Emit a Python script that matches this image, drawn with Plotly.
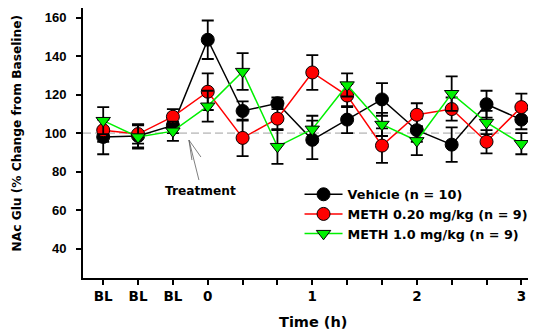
import plotly.graph_objects as go

# x positions: sample index (20-min bins); tick labels
x_idx = list(range(13))
tick_text = ["BL", "BL", "BL", "0", "", "", "1", "", "", "2", "", "", "3"]

veh_mean = [98, 98.5, 104, 148.5, 111.5, 115.5, 96.5, 107, 117.5, 101.5, 94, 115, 107]
veh_sem = [9, 6, 4, 10, 5, 3, 10, 7, 8.5, 6, 9, 7, 5]

m020_mean = [101.5, 99.5, 108.5, 121.5, 97.5, 107.5, 131.5, 119.5, 93.5, 109.5, 112.5, 95.5, 113.5]
m020_sem = [6, 5, 4, 9.5, 9.5, 6, 9, 6, 9, 6, 6, 6, 7]

m10_mean = [106.5, 98, 101, 114, 132, 93, 102, 125, 104.5, 96, 120.5, 105.5, 94.5]
m10_sem = [7, 6, 5, 8, 9.5, 9, 7, 6, 6, 7.5, 9, 6, 5.5]

y_ticks = [40, 60, 80, 100, 120, 140, 160]

FONT = "DejaVu Sans, sans-serif"
AFONT = "Liberation Sans, Arial, sans-serif"

fig = go.Figure()

series = [
    ("Vehicle (n = 10)", veh_mean, veh_sem, "black", "circle", 13),
    ("METH 0.20 mg/kg (n = 9)", m020_mean, m020_sem, "#ff0000", "circle", 13),
    ("METH 1.0 mg/kg (n = 9)", m10_mean, m10_sem, "#00f000", "triangle-down", 12.5),
]
for name, m, s, c, sym, sz in series:
    fig.add_trace(go.Scatter(
        x=x_idx, y=m, name=name, mode="lines+markers",
        line=dict(color=c, width=1.5),
        marker=dict(color=c, symbol=sym, size=sz, line=dict(color="black", width=1)),
        error_y=dict(type="data", array=s, visible=True, color="black", thickness=1.8, width=6),
    ))

fig.add_hline(y=100, line=dict(color="#a0a0a0", width=1, dash="8px,4px"), layer="below")

# treatment arrow (open V head), anchored at the injection time
fig.add_shape(
    type="path", xref="x", yref="y", xsizemode="pixel", ysizemode="pixel",
    xanchor=2.46, yanchor=96.4,
    path="M10,-40 L0,0 L12,-17 M0,0 L3,-20",
    line=dict(color="#606060", width=0.8),
)
fig.add_annotation(
    x=2.805, y=70, xref="x", yref="y", showarrow=False,
    text="<b>Treatment</b>", font=dict(family=FONT, size=12.2, color="black"),
)

fig.add_annotation(
    x=-0.1457, y=0.539, xref="paper", yref="paper", textangle=-90,
    xanchor="center", yanchor="middle",
    text="<b>NAc Glu (% Change from Baseline)</b>", showarrow=False,
    font=dict(family=FONT, size=12.2, color="black"),
)
fig.add_annotation(
    x=0.508, y=-0.163, xref="paper", yref="paper",
    xanchor="center", yanchor="middle",
    text="<b>Time (h)</b>", showarrow=False,
    font=dict(family=FONT, size=14.5, color="black"),
)

fig.update_layout(
    width=528, height=325,
    margin=dict(l=75, r=0, t=0, b=55),
    paper_bgcolor="white", plot_bgcolor="white",
    font=dict(family=FONT, color="black"),
    showlegend=True,
    legend=dict(x=0.478, y=0.365, xanchor="left", yanchor="top",
                font=dict(family=FONT, size=12.8, color="black", weight="bold"),
                bgcolor="rgba(0,0,0,0)", itemwidth=38),
    xaxis=dict(
        range=[-0.58, 12.42], tickmode="array", tickvals=x_idx, ticktext=tick_text,
        showgrid=False, zeroline=False, showline=True, linecolor="black", linewidth=2,
        ticks="outside", ticklen=5, tickwidth=1.5, tickcolor="black",
        tickfont=dict(family=FONT, size=13.5, weight="bold"),
    ),
    yaxis=dict(
        range=[24.7, 165], tickmode="array", tickvals=y_ticks,
        showgrid=False, zeroline=False, showline=True, linecolor="black", linewidth=2,
        ticks="outside", ticklen=5, tickwidth=1.5, tickcolor="black",
        tickfont=dict(family=AFONT, size=13, weight="bold"), ticklabelstandoff=7,
    ),
)

fig.write_html("out.html")
